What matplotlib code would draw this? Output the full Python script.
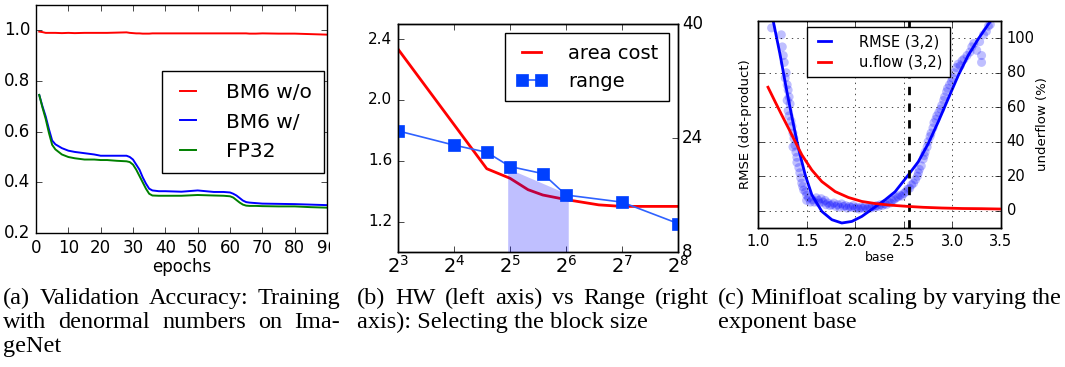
import matplotlib
matplotlib.use('Agg')
import matplotlib.pyplot as plt
from matplotlib.ticker import NullLocator
from matplotlib.transforms import Bbox, TransformedBbox

plt.style.use('classic')
plt.rcParams['mathtext.fontset'] = 'dejavusans'
plt.rcParams['font.family'] = 'DejaVu Sans'

# (a) validation accuracy
epochs = [1, 2, 3, 4, 5, 6, 8, 10, 12, 15, 18, 20, 22, 25, 28, 29, 30, 31, 32, 33,
          34, 35, 36, 38, 40, 45, 50, 55, 58, 60, 61, 62, 63, 64, 65, 66, 68, 70,
          75, 80, 85, 90]
bm6_wo = [0.995, 0.993, 0.99, 0.99, 0.99, 0.99, 0.989, 0.99, 0.989, 0.99, 0.99,
          0.99, 0.99, 0.991, 0.992, 0.99, 0.989, 0.988, 0.988, 0.987, 0.987,
          0.987, 0.988, 0.988, 0.988, 0.988, 0.988, 0.988, 0.988, 0.988, 0.988,
          0.988, 0.988, 0.988, 0.988, 0.987, 0.987, 0.988, 0.987, 0.987, 0.985,
          0.983]
bm6_w = [0.745, 0.70, 0.66, 0.61, 0.565, 0.55, 0.535, 0.525, 0.52, 0.515, 0.51,
         0.505, 0.505, 0.505, 0.505, 0.50, 0.49, 0.47, 0.45, 0.42, 0.395, 0.375,
         0.368, 0.365, 0.365, 0.363, 0.368, 0.362, 0.362, 0.36, 0.355, 0.348,
         0.338, 0.328, 0.322, 0.32, 0.318, 0.316, 0.315, 0.314, 0.312, 0.31]
fp32 = [0.745, 0.695, 0.65, 0.595, 0.548, 0.53, 0.51, 0.50, 0.495, 0.49, 0.49,
        0.488, 0.488, 0.485, 0.483, 0.48, 0.47, 0.45, 0.425, 0.40, 0.375, 0.355,
        0.348, 0.347, 0.347, 0.347, 0.35, 0.348, 0.347, 0.345, 0.34, 0.33, 0.32,
        0.312, 0.308, 0.307, 0.307, 0.306, 0.305, 0.305, 0.302, 0.30]

# (b) area cost vs range
area_x = [8, 24, 32, 40, 48, 64, 96, 128, 192, 256]
area_cost = [2.335, 1.548, 1.485, 1.41, 1.375, 1.345, 1.31, 1.30, 1.30, 1.30]
range_x = [8, 16, 24, 32, 48, 64, 128, 256]
range_bits = [25, 23, 22, 20, 19, 16, 15, 12]
shade_x = [31.1, 65.8]
shade_top = [19.75, 16.1]
b_ticks = [8, 16, 32, 64, 128, 256]
b_ticklabels = [r'$2^{3}$', r'$2^{4}$', r'$2^{5}$', r'$2^{6}$', r'$2^{7}$', r'$2^{8}$']

# (c) minifloat base
rmse_fit_x = [1.16, 1.229, 1.298, 1.366, 1.417, 1.486, 1.554, 1.657, 1.76, 1.862,
              1.965, 2.068, 2.17, 2.307, 2.41, 2.546, 2.649, 2.752, 2.854, 2.957,
              3.06, 3.162, 3.265, 3.368, 3.42]
rmse_fit_y = [109, 90, 68.8, 49.6, 36, 20.7, 9.2, -0.4, -5.2, -7.1, -6.2, -3.3,
              0.8, 6.3, 11, 20.7, 28.4, 39, 51.5, 65, 78.4, 90, 99.5, 108, 112]
uflow_x = [1.103, 1.178, 1.246, 1.315, 1.383, 1.452, 1.554, 1.657, 1.794, 1.93,
           2.068, 2.204, 2.35, 2.546, 2.7, 2.889, 3.1, 3.3, 3.5]
uflow_y = [71.6, 63, 55.3, 47.7, 40, 32.3, 23.6, 16.9, 11.1, 7.7, 5.4, 4.2, 3.3,
           2.5, 2.0, 1.6, 1.3, 1.2, 1.0]
rmse_x = [1.14, 1.24, 1.25, 1.26, 1.27, 1.29, 1.28, 1.30, 1.31, 1.32, 1.30, 1.33,
          1.31, 1.32, 1.34, 1.35, 1.36, 1.37, 1.38, 1.36, 1.39, 1.40, 1.40, 1.42,
          1.43, 1.44, 1.45, 1.46, 1.47, 1.49, 1.50, 1.52, 1.50, 1.54,
          1.56, 1.58, 1.60, 1.62, 1.63, 1.65, 1.67, 1.69, 1.70, 1.72, 1.74, 1.76,
          1.78, 1.80, 1.82, 1.84, 1.86, 1.88, 1.90, 1.92, 1.94, 1.96, 1.98, 2.00,
          2.02, 2.04, 2.06, 2.08, 2.10, 2.12, 2.14, 2.16, 2.18, 2.20, 2.22, 2.24,
          2.26, 2.28, 2.30, 2.32, 2.34, 2.36, 2.38, 2.40, 2.42, 2.44, 2.46, 2.48,
          2.50, 2.52, 2.54, 2.56, 2.58, 2.60, 2.62, 2.64, 2.65, 2.66, 2.68, 2.70,
          2.71, 2.72, 2.74, 2.75, 2.77, 2.78, 2.80, 2.81, 2.83, 2.84, 2.86, 2.88,
          2.89, 2.91, 2.92, 2.94, 2.95, 2.97, 2.99, 3.00, 3.02, 3.04, 3.06, 3.08,
          3.10, 3.12, 3.15, 3.18, 3.20, 3.22, 3.25, 3.28, 3.30, 3.30, 3.32, 3.35,
          3.37, 3.39]
rmse_y = [106, 102, 95, 90, 86, 80, 77, 73, 70, 66, 64, 62, 58, 55, 52, 49, 45,
          42, 38, 37, 34, 31, 28, 25, 22, 19, 16, 14, 12, 11, 9, 7.5, 6, 5,
          6.5, 5, 7.5, 6, 4.5, 7, 5, 6, 3.5, 4.5, 3, 3.5, 4.5, 2.5, 3.5, 2, 4,
          2.5, 3, 1.5, 2.5, 2, 3, 1.5, 2, 1, 2, 1.5, 2.5, 1, 2, 1.5, 2.5, 2, 3,
          2.5, 3.5, 3, 4, 3.5, 5, 4.5, 6, 6.5, 7.5, 8, 9, 8.5, 10,
          11, 12.5, 13, 15, 16, 18, 20, 22, 24, 26, 30, 32, 34, 37, 40, 43, 45,
          48, 51, 53, 55, 57, 59, 61, 64, 66, 69, 71, 73, 75, 77, 80, 83, 85, 84,
          87, 88, 90, 92, 95, 97, 93, 98, 90, 86, 102, 104, 107, 108]
base_mark = 2.55

W, H = 1065, 367
fig = plt.figure(figsize=(W / 100, H / 100), dpi=100, facecolor='white')


def px_axes(l, t, r, b):
    return fig.add_axes([l / W, 1 - b / H, (r - l) / W, (b - t) / H])


# ---- panel a
ax = px_axes(36, 5, 327, 233)
ax.plot(epochs, bm6_wo, 'r-', lw=1.4, label='BM6 w/o')
ax.plot(epochs, bm6_w, 'b-', lw=1.4, label='BM6 w/')
ax.plot(epochs, fp32, 'g-', lw=1.4, label='FP32')
ax.set_xlim(0, 90)
ax.set_ylim(0.2, 1.1)
ax.set_xticks(range(0, 91, 10))
ax.set_yticks([0.2, 0.4, 0.6, 0.8, 1.0])
ax.tick_params(labelsize=12)
ax.set_xlabel('epochs', fontsize=12, labelpad=1)
ax.legend(loc='upper left', bbox_to_anchor=(0.433, 0.709), borderaxespad=0,
          fontsize=14.5, handlelength=1.4, handletextpad=1.2, borderpad=0.6,
          labelspacing=0.5)
clip = TransformedBbox(Bbox([[0, 0], [330 / W, 1]]), fig.transFigure)
for lab in ax.get_xticklabels():
    lab.set_clip_box(clip)
    lab.set_clip_on(True)

# ---- panel b
axb = px_axes(398, 24, 678, 252)
axb.set_xscale('log', base=2)
axb.plot(area_x, area_cost, 'r-', lw=2, label='area cost')
axb.set_xlim(8, 256)
axb.set_ylim(1.0, 2.5)
axb.set_yticks([1.2, 1.6, 2.0, 2.4])
axb.set_xticks(b_ticks)
axb.set_xticklabels(b_ticklabels)
axb.xaxis.set_minor_locator(NullLocator())
axb.tick_params(labelsize=11)
axb.tick_params(axis='x', labelsize=14, pad=2)
axb2 = axb.twinx()
axb2.fill_between(shade_x, shade_top, 8, color='b', alpha=0.25, lw=0)
axb2.plot(range_x, range_bits, '-s', color='#2f62ff', lw=1.2, ms=8,
          mfc='#0040ff', mec='#0040ff', label='range')
axb2.set_ylim(8, 40)
axb2.set_yticks([8, 24, 40])
axb2.tick_params(labelsize=12, pad=3)
axb2.xaxis.set_minor_locator(NullLocator())
h1, l1 = axb.get_legend_handles_labels()
h2, l2 = axb2.get_legend_handles_labels()
axb2.legend(h1 + h2, l1 + l2, loc='upper right', bbox_to_anchor=(0.969, 0.959),
            borderaxespad=0, fontsize=14, handlelength=1.6, handletextpad=1.1,
            borderpad=0.55, labelspacing=0.45)

# ---- panel c
axc = px_axes(758, 21, 1001, 228)
axc.scatter(rmse_x, rmse_y, s=42, color='b', alpha=0.25, edgecolors='none')
axc.plot(rmse_fit_x, rmse_fit_y, 'b-', lw=2, label='RMSE (3,2)')
axc.axvline(base_mark, color='k', ls='--', lw=2)
axc.set_xlim(1.0, 3.5)
axc.set_ylim(-10, 110)
axc.set_xticks([1.0, 1.5, 2.0, 2.5, 3.0, 3.5])
axc.set_yticks([0, 20, 40, 60, 80, 100])
axc.set_yticklabels([])
axc.grid(True)
axc.tick_params(labelsize=10.5)
axc.set_xlabel('base', fontsize=9, labelpad=2)
axc.set_ylabel('RMSE (dot-product)', fontsize=9.5, labelpad=0)
axc2 = axc.twinx()
axc2.plot(uflow_x, uflow_y, 'r-', lw=2, label='u.flow (3,2)')
axc2.set_ylim(-10, 110)
axc2.set_yticks([0, 20, 40, 60, 80, 100])
axc2.tick_params(labelsize=10.5)
axc2.set_ylabel('underflow (%)', fontsize=9.5, labelpad=1)
h1, l1 = axc.get_legend_handles_labels()
h2, l2 = axc2.get_legend_handles_labels()
axc2.legend(h1 + h2, l1 + l2, loc='upper left', bbox_to_anchor=(0.2, 0.97),
            borderaxespad=0, fontsize=10.5, handlelength=1.5, handletextpad=1.6,
            borderpad=0.5, labelspacing=0.35)

# ---- captions
cap_font = dict(family='Liberation Serif', fontsize=17.5, va='baseline')
renderer = fig.canvas.get_renderer()


def caption_line(text, x0, x1, y, justify):
    words = text.split()
    if not justify:
        fig.text(x0 / W, 1 - y / H, text, **cap_font)
        return
    items = [fig.text(0, 1 - y / H, w, **cap_font) for w in words]
    widths = [t.get_window_extent(renderer).width for t in items]
    gap = (x1 - x0 - sum(widths)) / (len(words) - 1)
    x = x0
    for t, w in zip(items, widths):
        t.set_x(x / W)
        x += w + gap


caption_line('(a) Validation Accuracy: Training', 3, 340, 304, True)
caption_line('with denormal numbers on Ima-', 3, 340, 328, True)
caption_line('geNet', 3, 340, 352, False)
caption_line('(b) HW (left axis) vs Range (right', 357, 709, 304, True)
caption_line('axis): Selecting the block size', 357, 709, 328, False)
caption_line('(c) Minifloat scaling by varying the', 718, 1062, 304, True)
caption_line('exponent base', 718, 1062, 328, False)

fig.savefig('out.png', dpi=100, facecolor='white')
